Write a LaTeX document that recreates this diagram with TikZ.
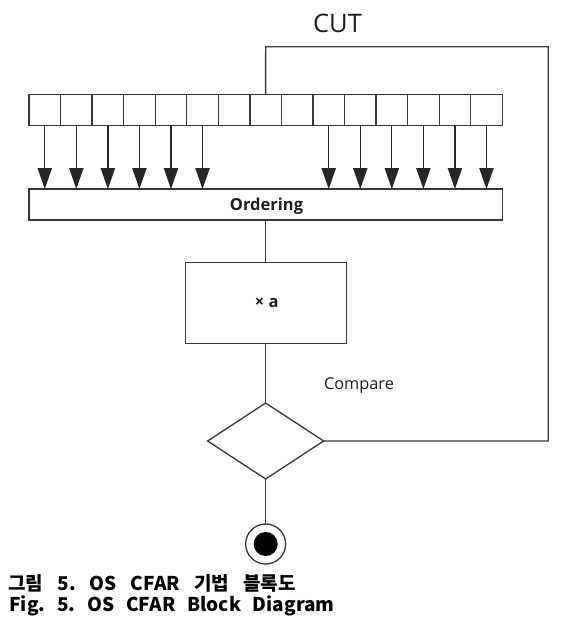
\documentclass[tikz,border=0pt]{standalone}
\usepackage{fontspec}
\setmainfont{Open Sans}
\newfontfamily\krfont{Noto Sans CJK KR}
\usetikzlibrary{arrows.meta,shapes.geometric}
\begin{document}
\frenchspacing
\begin{tikzpicture}[x=1pt,y=-1pt,
  ln/.style={draw=black!78,line width=1.3pt},
  cellbox/.style={ln,rectangle,minimum width=31.55pt,minimum height=31.4pt,inner sep=0pt,outer sep=0pt},
  blockbox/.style={ln,rectangle,inner sep=0pt,outer sep=0pt},
  feed/.style={draw=black!85,line width=1.3pt,-{Triangle[length=21pt,width=14.3pt]}},
  lbl/.style={inner sep=0pt,anchor=base,text=black!88},
  captext/.style={inner sep=0pt,anchor=base west,font=\krfont\bfseries\fontsize{19}{19}\selectfont\frenchspacing,text=black}
]
\useasboundingbox (0,0) rectangle (570,637);
% cells
\foreach \i in {1,...,15}{
  \node[cellbox] (c\i) at ({29+31.55*(\i-0.5)},110) {};
}
% ordering block
\node[blockbox,minimum width=473.3pt,minimum height=31pt] (ord) at (265.65,204.5) {};
\node[lbl,font=\bfseries\fontsize{16.5}{16.5}\selectfont] (ordt) at (266.5,210) {Ordering};
% arrows into ordering
\foreach \i in {1,...,6,10,11,...,15}{
  \draw[feed] (c\i.south) -- (c\i.south |- ord.north);
}
% x a block
\node[blockbox,minimum width=161pt,minimum height=80.6pt] (xa) at (265.65,303) {};
\node[lbl,font=\bfseries\fontsize{16.5}{16.5}\selectfont] (xat) at (266.7,307.7) {× a};
% compare diamond
\node[ln,diamond,minimum width=116pt,minimum height=76pt,inner sep=0pt,outer sep=0pt] (dia) at (265.65,441) {};
\node[lbl,font=\fontsize{16.3}{16.3}\selectfont] (cmp) at (359,389) {Compare};
% end node
\node[ln,circle,minimum size=40pt,inner sep=0pt,outer sep=0pt] (endc) at (265.65,544) {};
\node[circle,fill=black,minimum size=24pt,inner sep=0pt] (endd) at (endc.center) {};
% CUT label and loop
\node[lbl,font=\fontsize{25.5}{25.5}\selectfont] (cut) at (337.5,32.3) {CUT};
\coordinate (k1) at (265.65,46.7);
\coordinate (k2) at (548.3,46.7);
\coordinate (k3) at (548.3,441);
\draw[ln] (c8.north) -- (k1) -- (k2) -- (k3) -- (dia.east);
% vertical connectors
\draw[ln] (ord.south) -- (xa.north);
\draw[ln] (xa.south) -- (dia.north);
\draw[ln] (dia.south) -- (endc.north);
% caption
\node[captext] (cap1) at (8.3,590.3) {\hbox to 287pt{그림 5. OS CFAR 기법 블록도}};
\node[captext] (cap2) at (9.3,611) {\hbox to 325pt{Fig. 5. OS CFAR Block Diagram}};
\end{tikzpicture}
\end{document}
